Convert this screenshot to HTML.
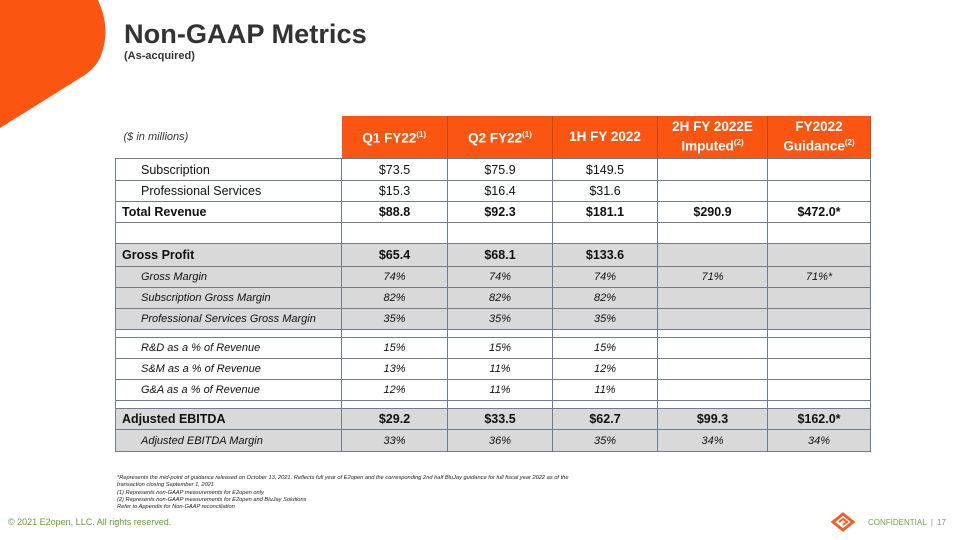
<!DOCTYPE html>
<html><head><meta charset="utf-8"><style>
body{margin:0;width:960px;height:540px;position:relative;background:#fff;font-family:"Liberation Sans",Arial,sans-serif;overflow:hidden;color:#111}
.title{position:absolute;left:124px;top:18px;font-size:27.2px;font-weight:bold;color:#333}
.sub{position:absolute;left:124px;top:50px;font-size:11px;font-weight:bold;color:#333}
table{position:absolute;left:115px;top:116px;border-collapse:collapse;table-layout:fixed;font-size:12.5px}
td{border:1.5px solid #6f7c8c;padding:0;text-align:center;height:20px}
thead td{border:none;height:42px}
thead td.h{background:#fa5511;color:#fff;font-weight:bold;font-size:13.5px;border-right:1.5px solid #c44a1a;line-height:16px}
thead td.lbl{text-align:left;font-style:italic;font-size:11px;color:#333;padding-left:8px}
sup{font-size:8px}
td.l{text-align:left;padding-left:25px}
tr.b td{font-weight:bold}
tr.b td.l{padding-left:6px}
tr.g td{background:#d9d9d9}
tr.i td{font-style:italic;font-size:11px}
tr.i td.l{padding-left:25px}
tr.t td{height:7px}
.fn{position:absolute;left:117px;top:475px;font-size:5.7px;font-style:italic;line-height:7.3px;color:#222}
.copy{position:absolute;left:8px;top:517px;font-size:9px;color:#6a9a3a}
.conf{position:absolute;left:868px;top:518px;font-size:8px;color:#7aa04a}
.pg{position:absolute;left:937px;top:518px;font-size:8px;color:#888}
</style></head><body>
<svg style="position:absolute;left:0;top:0" width="120" height="140"><path d="M0,0 L98,0 Q112,30 100,58 Q94,70 80,78 L0,128 Z" fill="#fa5511"/></svg>
<div class="title">Non-GAAP Metrics</div>
<div class="sub">(As-acquired)</div>
<table>
<colgroup><col style="width:226px"><col style="width:106px"><col style="width:105px"><col style="width:105px"><col style="width:110px"><col style="width:103px"></colgroup>
<thead><tr><td class="lbl">($ in millions)</td><td class="h">Q1 FY22<sup>(1)</sup></td><td class="h">Q2 FY22<sup>(1)</sup></td><td class="h">1H FY 2022</td><td class="h">2H FY 2022E Imputed<sup>(2)</sup></td><td class="h">FY2022 Guidance<sup>(2)</sup></td></tr></thead>
<tbody>
<tr style="height:22px"><td class="l">Subscription</td><td>$73.5</td><td>$75.9</td><td>$149.5</td><td></td><td></td></tr>
<tr><td class="l">Professional Services</td><td>$15.3</td><td>$16.4</td><td>$31.6</td><td></td><td></td></tr>
<tr class="b"><td class="l">Total Revenue</td><td>$88.8</td><td>$92.3</td><td>$181.1</td><td>$290.9</td><td>$472.0*</td></tr>
<tr><td></td><td></td><td></td><td></td><td></td><td></td></tr>
<tr class="b g" style="height:23px"><td class="l">Gross Profit</td><td>$65.4</td><td>$68.1</td><td>$133.6</td><td></td><td></td></tr>
<tr class="i g"><td class="l">Gross Margin</td><td>74%</td><td>74%</td><td>74%</td><td>71%</td><td>71%*</td></tr>
<tr class="i g"><td class="l">Subscription Gross Margin</td><td>82%</td><td>82%</td><td>82%</td><td></td><td></td></tr>
<tr class="i g"><td class="l">Professional Services Gross Margin</td><td>35%</td><td>35%</td><td>35%</td><td></td><td></td></tr>
<tr class="t" style="height:8px"><td></td><td></td><td></td><td></td><td></td><td></td></tr>
<tr class="i"><td class="l">R&amp;D as a % of Revenue</td><td>15%</td><td>15%</td><td>15%</td><td></td><td></td></tr>
<tr class="i"><td class="l">S&amp;M as a % of Revenue</td><td>13%</td><td>11%</td><td>12%</td><td></td><td></td></tr>
<tr class="i"><td class="l">G&amp;A as a % of Revenue</td><td>12%</td><td>11%</td><td>11%</td><td></td><td></td></tr>
<tr class="t"><td></td><td></td><td></td><td></td><td></td><td></td></tr>
<tr class="b g" style="height:21px"><td class="l">Adjusted EBITDA</td><td>$29.2</td><td>$33.5</td><td>$62.7</td><td>$99.3</td><td>$162.0*</td></tr>
<tr class="i g" style="height:22px"><td class="l">Adjusted EBITDA Margin</td><td>33%</td><td>36%</td><td>35%</td><td>34%</td><td>34%</td></tr>
</tbody></table>
<div class="fn">*Represents the mid-point of guidance released on October 13, 2021. Reflects full year of E2open and the corresponding 2nd half BluJay guidance for full fiscal year 2022 as of the<br>transaction closing September 1, 2021<br>(1) Represents non-GAAP measurements for E2open only<br>(2) Represents non-GAAP measurements for E2open and BluJay Solutions<br>Refer to Appendix for Non-GAAP reconciliation</div>
<div class="copy">© 2021 E2open, LLC. All rights reserved.</div>
<svg style="position:absolute;left:830px;top:512px" width="26" height="20"><path d="M13,2 L23,10 L13,18 L3,10 Z" fill="none" stroke="#f06020" stroke-width="3"/><path d="M9,10 L13,7 L17,10 L13,13" fill="none" stroke="#f06020" stroke-width="2"/></svg>
<div class="conf">CONFIDENTIAL &nbsp;|</div>
<div class="pg">17</div>
</body></html>
